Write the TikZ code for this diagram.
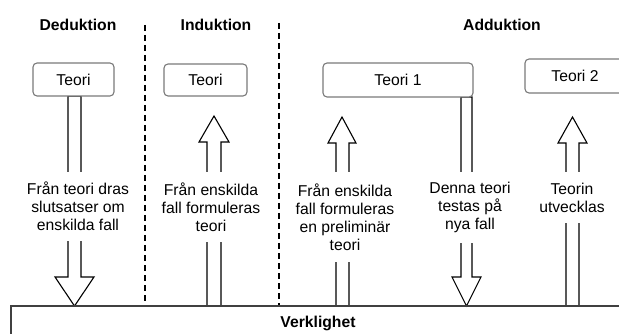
\documentclass[tikz,border=0pt]{standalone}
\usepackage{fontspec}
\setmainfont{Liberation Sans}
\definecolor{boxgray}{HTML}{7A7A7A}
\definecolor{linegray}{HTML}{404040}
\begin{document}
\begin{tikzpicture}[x=1pt,y=-1pt,
  teori/.style={draw=boxgray, line width=1.1pt, rounded corners=4pt, fill=white, inner sep=0pt, font=\fontsize{15.7}{18}\selectfont},
  titletext/.style={font=\bfseries\fontsize{15.7}{18}\selectfont, inner sep=0pt},
  lbl/.style={fill=white, align=center, inner xsep=1pt, inner ysep=0pt, font=\fontsize{15.7}{18}\selectfont},
  blk/.style={draw=black, line width=1.1pt, fill=white, line join=miter},
  sepline/.style={line width=1.5pt, dash pattern=on 6pt off 4pt},
  groundline/.style={draw=linegray, line width=1.5pt}]
\useasboundingbox (0,0) rectangle (619,334);
\clip (0,0) rectangle (619,334);

% titles
\node[titletext] (ded) at (78,25) {Deduktion};
\node[titletext] (ind) at (216,25) {Induktion};
\node[titletext] (add) at (502,25) {Adduktion};

% block arrows
\draw[blk] (68,96) -- (68,277) -- (55,277) -- (74.5,306) -- (94,277) -- (81,277) -- (81,96) -- cycle;
\draw[blk] (207,306) -- (207,142) -- (199,142) -- (214,116) -- (229,142) -- (221,142) -- (221,306) -- cycle;
\draw[blk] (336,306) -- (336,143) -- (328,143) -- (342,117) -- (356,143) -- (349,143) -- (349,306) -- cycle;
\draw[blk] (461,97) -- (461,277) -- (452,277) -- (466.5,306) -- (481,277) -- (472,277) -- (472,97) -- cycle;
\draw[blk] (566,306) -- (566,143) -- (558,143) -- (572.5,117) -- (587,143) -- (579,143) -- (579,306) -- cycle;

% theory boxes
\node[teori, minimum width=81, minimum height=33] (t1) at (73.5,79.5) {Teori};
\node[teori, minimum width=83, minimum height=32] (t2) at (205.5,80) {Teori};
\node[teori, minimum width=150, minimum height=34] (t3) at (398,80) {Teori 1};
\node[teori, minimum width=100, minimum height=34] (t4) at (575,76) {Teori 2};

% labels
\node[lbl, minimum height=69] (l1) at (78,206.5) {Från teori dras\\slutsatser om\\enskilda fall};
\node[lbl, minimum height=70] (l2) at (211,207) {Från enskilda\\fall formuleras\\teori};
\node[lbl, minimum height=90] (l3) at (345,217) {Från enskilda\\fall formuleras\\en preliminär\\teori};
\node[lbl, minimum height=71] (l4) at (470,207.5) {Denna teori\\testas på\\nya fall};
\node[lbl, minimum height=51] (l5) at (572,197.5) {Teorin\\utvecklas};

% separators
\coordinate (s1a) at (145,25);
\coordinate (s1b) at (145,307);
\coordinate (s2a) at (279,23);
\coordinate (s2b) at (279,307);
\draw[sepline] (s1a) -- (s1b);
\draw[sepline] (s2a) -- (s2b);

% reality
\draw[groundline] (11,340) -- (11,306) -- (625,306) -- (625,340);
\node[titletext] (verk) at (318,323) {Verklighet};
\end{tikzpicture}
\end{document}
